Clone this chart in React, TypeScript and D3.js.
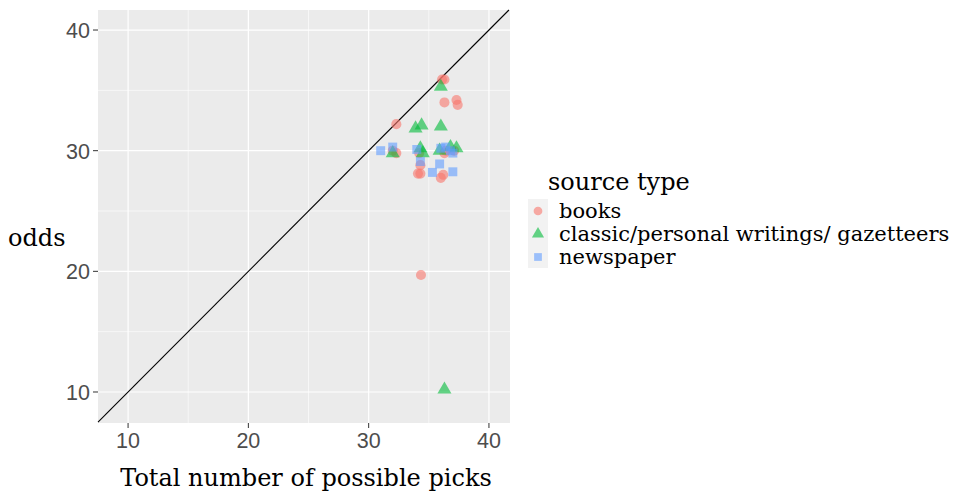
import React from "react";
import * as d3 from "d3";

// values
const booksX = [36.1, 36.3, 36.3, 37.3, 37.4, 32.3, 32.0, 32.3, 34.2, 34.3, 34.1, 34.3, 36.0, 36.2, 36.3, 36.4, 37.1, 34.35];
const booksY = [35.9, 35.9, 34.0, 34.2, 33.8, 32.2, 30.0, 29.8, 29.8, 28.8, 28.1, 28.1, 27.75, 28.0, 29.8, 30.0, 30.0, 19.7];

const classicX = [36.0, 33.9, 34.4, 36.0, 32.0, 34.3, 34.5, 35.9, 37.3, 36.8, 36.3];
const classicY = [35.3, 31.85, 32.1, 32.0, 29.8, 30.2, 29.8, 30.0, 30.2, 30.3, 10.2];

const newsX = [31.0, 32.0, 34.0, 34.3, 35.3, 35.9, 37.0, 36.0, 36.4, 37.0, 36.8];
const newsY = [30.0, 30.3, 30.1, 29.1, 28.2, 28.9, 28.25, 30.2, 30.3, 29.8, 30.0];

const sourceTypes = ["books", "classic/personal writings/ gazetteers", "newspaper"];
const majorTicks = [10, 20, 30, 40];
const minorTicks = [15, 25, 35];

const colors = ["#F8766D", "#00BA38", "#619CFF"];

export default function App() {
  const left = 98, right = 510, top = 10, bottom = 423;

  const x = d3.scaleLinear().domain([7.5, 41.75]).range([left, right]);
  const y = d3.scaleLinear().domain([7.43, 41.66]).range([bottom, top]);

  const sym = [d3.symbolCircle, d3.symbolTriangle, d3.symbolSquare];
  const sizes = [80, 85, 80];
  const series = [
    booksX.map((v, i) => [v, booksY[i]]),
    classicX.map((v, i) => [v, classicY[i]]),
    newsX.map((v, i) => [v, newsY[i]]),
  ];

  const tickFont = "Liberation Sans, Arial, sans-serif";
  const titleFont = "DejaVu Serif, serif";

  // y = x reference line clipped to panel
  const lo = Math.max(x.domain()[0], y.domain()[0]);
  const hi = Math.min(x.domain()[1], y.domain()[1]);

  return (
    <svg width={961} height={494} style={{ position: "absolute", left: 0, top: 0 }}>
      <rect x={0} y={0} width={961} height={494} fill="#fff" />
      <rect x={left} y={top} width={right - left} height={bottom - top} fill="#EBEBEB" />
      {minorTicks.map((t) => (
        <g key={"m" + t}>
          <line x1={x(t)} x2={x(t)} y1={top} y2={bottom} stroke="#fff" strokeWidth={0.6} />
          <line x1={left} x2={right} y1={y(t)} y2={y(t)} stroke="#fff" strokeWidth={0.6} />
        </g>
      ))}
      {majorTicks.map((t) => (
        <g key={"M" + t}>
          <line x1={x(t)} x2={x(t)} y1={top} y2={bottom} stroke="#fff" strokeWidth={1.2} />
          <line x1={left} x2={right} y1={y(t)} y2={y(t)} stroke="#fff" strokeWidth={1.2} />
          <line x1={x(t)} x2={x(t)} y1={bottom} y2={bottom + 5} stroke="#333" strokeWidth={1} />
          <line x1={left - 5} x2={left} y1={y(t)} y2={y(t)} stroke="#333" strokeWidth={1} />
          <text x={x(t)} y={bottom + 25} textAnchor="middle" fontFamily={tickFont} fontSize={21.5} fill="#4D4D4D">{t}</text>
          <text x={left - 8} y={y(t) + 8} textAnchor="end" fontFamily={tickFont} fontSize={21.5} fill="#4D4D4D">{t}</text>
        </g>
      ))}
      <line x1={x(lo)} y1={y(lo)} x2={x(hi)} y2={y(hi)} stroke="#000" strokeWidth={1.1} />
      {series.map((pts, k) =>
        pts.map((p, i) => (
          <path
            key={k + "-" + i}
            d={d3.symbol().type(sym[k]).size(sizes[k])()!}
            transform={`translate(${x(p[0])},${y(p[1])})`}
            fill={colors[k]}
            fillOpacity={0.6}
          />
        ))
      )}
      <text x={(left + right) / 2 + 2} y={486} textAnchor="middle" fontFamily={titleFont} fontSize={24} fill="#000">
        Total number of possible picks
      </text>
      <text x={8} y={246} fontFamily={titleFont} fontSize={24} fill="#000">odds</text>

      <text x={548} y={190} fontFamily={titleFont} fontSize={24} fill="#000">source type</text>
      <rect x={528} y={199} width={20} height={69} fill="#F2F2F2" />
      {sourceTypes.map((s, k) => (
        <g key={s} transform={`translate(538,${211 + k * 23})`}>
          <path d={d3.symbol().type(sym[k]).size(sizes[k] * 0.75)()!} fill={colors[k]} fillOpacity={0.6} />
          <text x={21} y={7} fontFamily={titleFont} fontSize={21} fill="#000">{s}</text>
        </g>
      ))}
    </svg>
  );
}
